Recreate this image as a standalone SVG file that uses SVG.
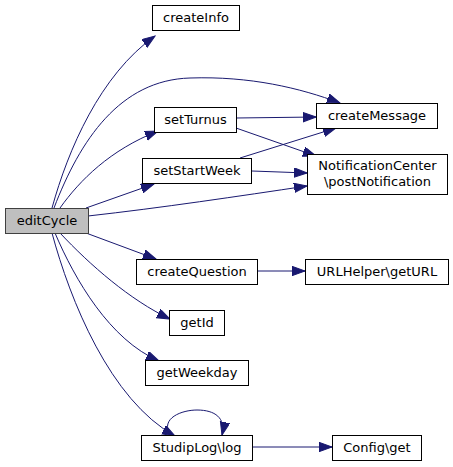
<svg xmlns="http://www.w3.org/2000/svg" width="453" height="467" viewBox="0 0 453 467">
<defs>
<marker id="ah" markerUnits="userSpaceOnUse" markerWidth="14" markerHeight="11" refX="13" refY="4.7" orient="auto">
<path d="M0,0 L13,4.7 L0,9.4 z" fill="#191970" stroke="#191970" stroke-width="1"/>
</marker>
<style>
.n rect{fill:#ffffff;stroke:#000000;stroke-width:1}
.n.cur rect{fill:#bfbfbf;stroke:#404040}
.n text{font-family:"DejaVu Sans",sans-serif;font-size:13px;text-anchor:middle;fill:#000}
.e path{fill:none;stroke:#191970;stroke-width:1;marker-end:url(#ah)}
</style>
</defs>
<rect width="453" height="467" fill="#ffffff"/>
<g id="edges" class="e">
<path d="M52,208 C68,150 100,75 155,36"/>
<path d="M54,208 C80,140 120,80 190,78 C250,76 300,88 340,103"/>
<path d="M60,208 C80,180 110,150 158,131"/>
<path d="M86,208 L154,184"/>
<path d="M88,216 C160,208 240,196 307,186"/>
<path d="M86,233 L156,259"/>
<path d="M60,233 C90,265 130,300 170,319"/>
<path d="M55,233 C75,280 110,340 159,361"/>
<path d="M52,233 C70,300 110,400 175,436"/>
<path d="M170,435 C160,418 182,410 197,410 C215,410 226,418 222,435"/>
<path d="M236,118 L316,117"/>
<path d="M236,128 L316,156"/>
<path d="M240,158 L336,128"/>
<path d="M252,171 L307,173"/>
<path d="M257,271 L305,271"/>
<path d="M252,447 L332,447"/>
</g>
<g id="editCycle" class="n cur"><rect x="5.5" y="208.5" width="83" height="25"/><text x="47" y="225">editCycle</text></g>
<g id="createInfo" class="n"><rect x="152.5" y="5.5" width="87" height="25"/><text x="196" y="22">createInfo</text></g>
<g id="setTurnus" class="n"><rect x="154.5" y="107.5" width="82" height="25"/><text x="195.5" y="124">setTurnus</text></g>
<g id="setStartWeek" class="n"><rect x="142.5" y="158.5" width="109" height="25"/><text x="197" y="175">setStartWeek</text></g>
<g id="createMessage" class="n"><rect x="316.5" y="103.5" width="121" height="25"/><text x="377" y="120">createMessage</text></g>
<g id="postNotification" class="n"><rect x="307.5" y="154.5" width="140" height="40"/><text x="377.5" y="169.5">NotificationCenter</text><text x="377.5" y="185.5">\postNotification</text></g>
<g id="createQuestion" class="n"><rect x="136.5" y="259.5" width="121" height="25"/><text x="197" y="276">createQuestion</text></g>
<g id="getURL" class="n"><rect x="305.5" y="259.5" width="143" height="25"/><text x="377" y="276">URLHelper\getURL</text></g>
<g id="getId" class="n"><rect x="169.5" y="310.5" width="55" height="25"/><text x="197" y="327">getId</text></g>
<g id="getWeekday" class="n"><rect x="145.5" y="360.5" width="103" height="25"/><text x="197" y="377">getWeekday</text></g>
<g id="log" class="n"><rect x="141.5" y="435.5" width="111" height="25"/><text x="197" y="452">StudipLog\log</text></g>
<g id="configGet" class="n"><rect x="332.5" y="435.5" width="89" height="25"/><text x="377" y="452">Config\get</text></g>
</svg>
